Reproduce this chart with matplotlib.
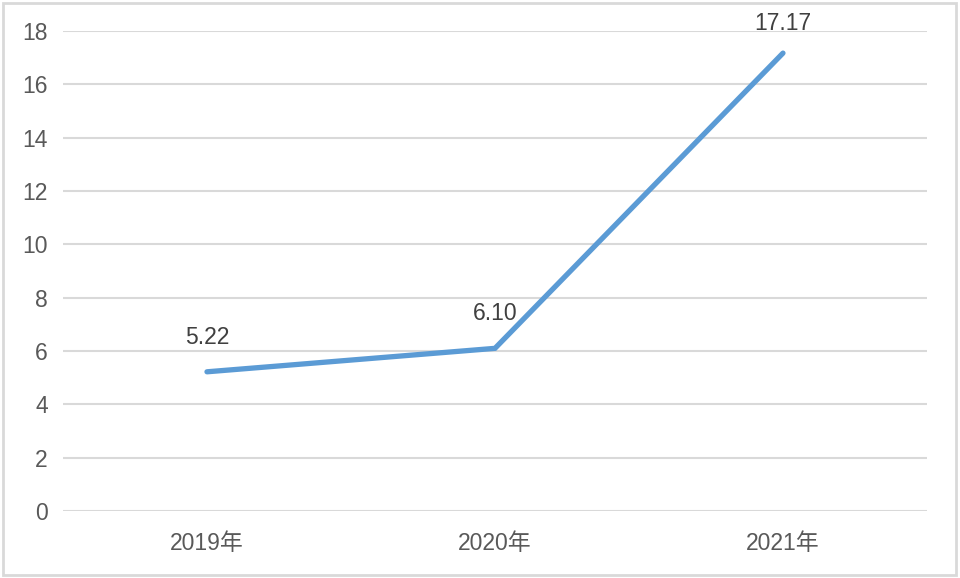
import matplotlib
matplotlib.use("Agg")
import matplotlib.pyplot as plt
from matplotlib.patches import Rectangle

# 数据
years = ["2019年", "2020年", "2021年"]
values = [5.22, 6.10, 17.17]
value_labels = ["5.22", "6.10", "17.17"]
yticks = list(range(0, 20, 2))

plt.rcParams["font.family"] = ["Liberation Sans", "Noto Sans CJK SC", "DejaVu Sans"]

fig = plt.figure(figsize=(9.6, 5.78), dpi=100)
ax = fig.add_axes([0.0656, 0.1159, 0.9, 0.8305])

x = list(range(len(years)))
ax.plot(x, values, color="#5B9BD5", linewidth=3.8, solid_capstyle="round",
        solid_joinstyle="miter", zorder=3)
ymax = 18
for xi, v, lab in zip(x, values, value_labels):
    # 靠近顶部的标签稍微压低一点（和原图一致）
    off = 25 if v < ymax * 0.9 else 21
    ax.annotate(lab, (xi, v), xytext=(0, off), textcoords="offset points",
                ha="center", va="center", fontsize=16.5, color="#404040", zorder=4)

ax.set_xlim(-0.5, 2.5)
ax.set_ylim(0, ymax)
ax.set_yticks(yticks)
ax.set_xticks(x)
ax.set_xticklabels(years, family=["Liberation Sans", "Noto Sans CJK SC"])
ax.tick_params(axis="both", length=0, labelsize=16.5, labelcolor="#595959")
ax.tick_params(axis="y", pad=11)
ax.tick_params(axis="x", pad=15)
ax.grid(axis="y", color="#D9D9D9", linewidth=1.5)
ax.set_axisbelow(True)
for s in ax.spines.values():
    s.set_visible(False)

# 外框
fig.patches.append(Rectangle((0.003, 0.005), 0.993, 0.99, transform=fig.transFigure,
                             fill=False, edgecolor="#D9D9D9", linewidth=2))

fig.savefig("out.png", dpi=100)
